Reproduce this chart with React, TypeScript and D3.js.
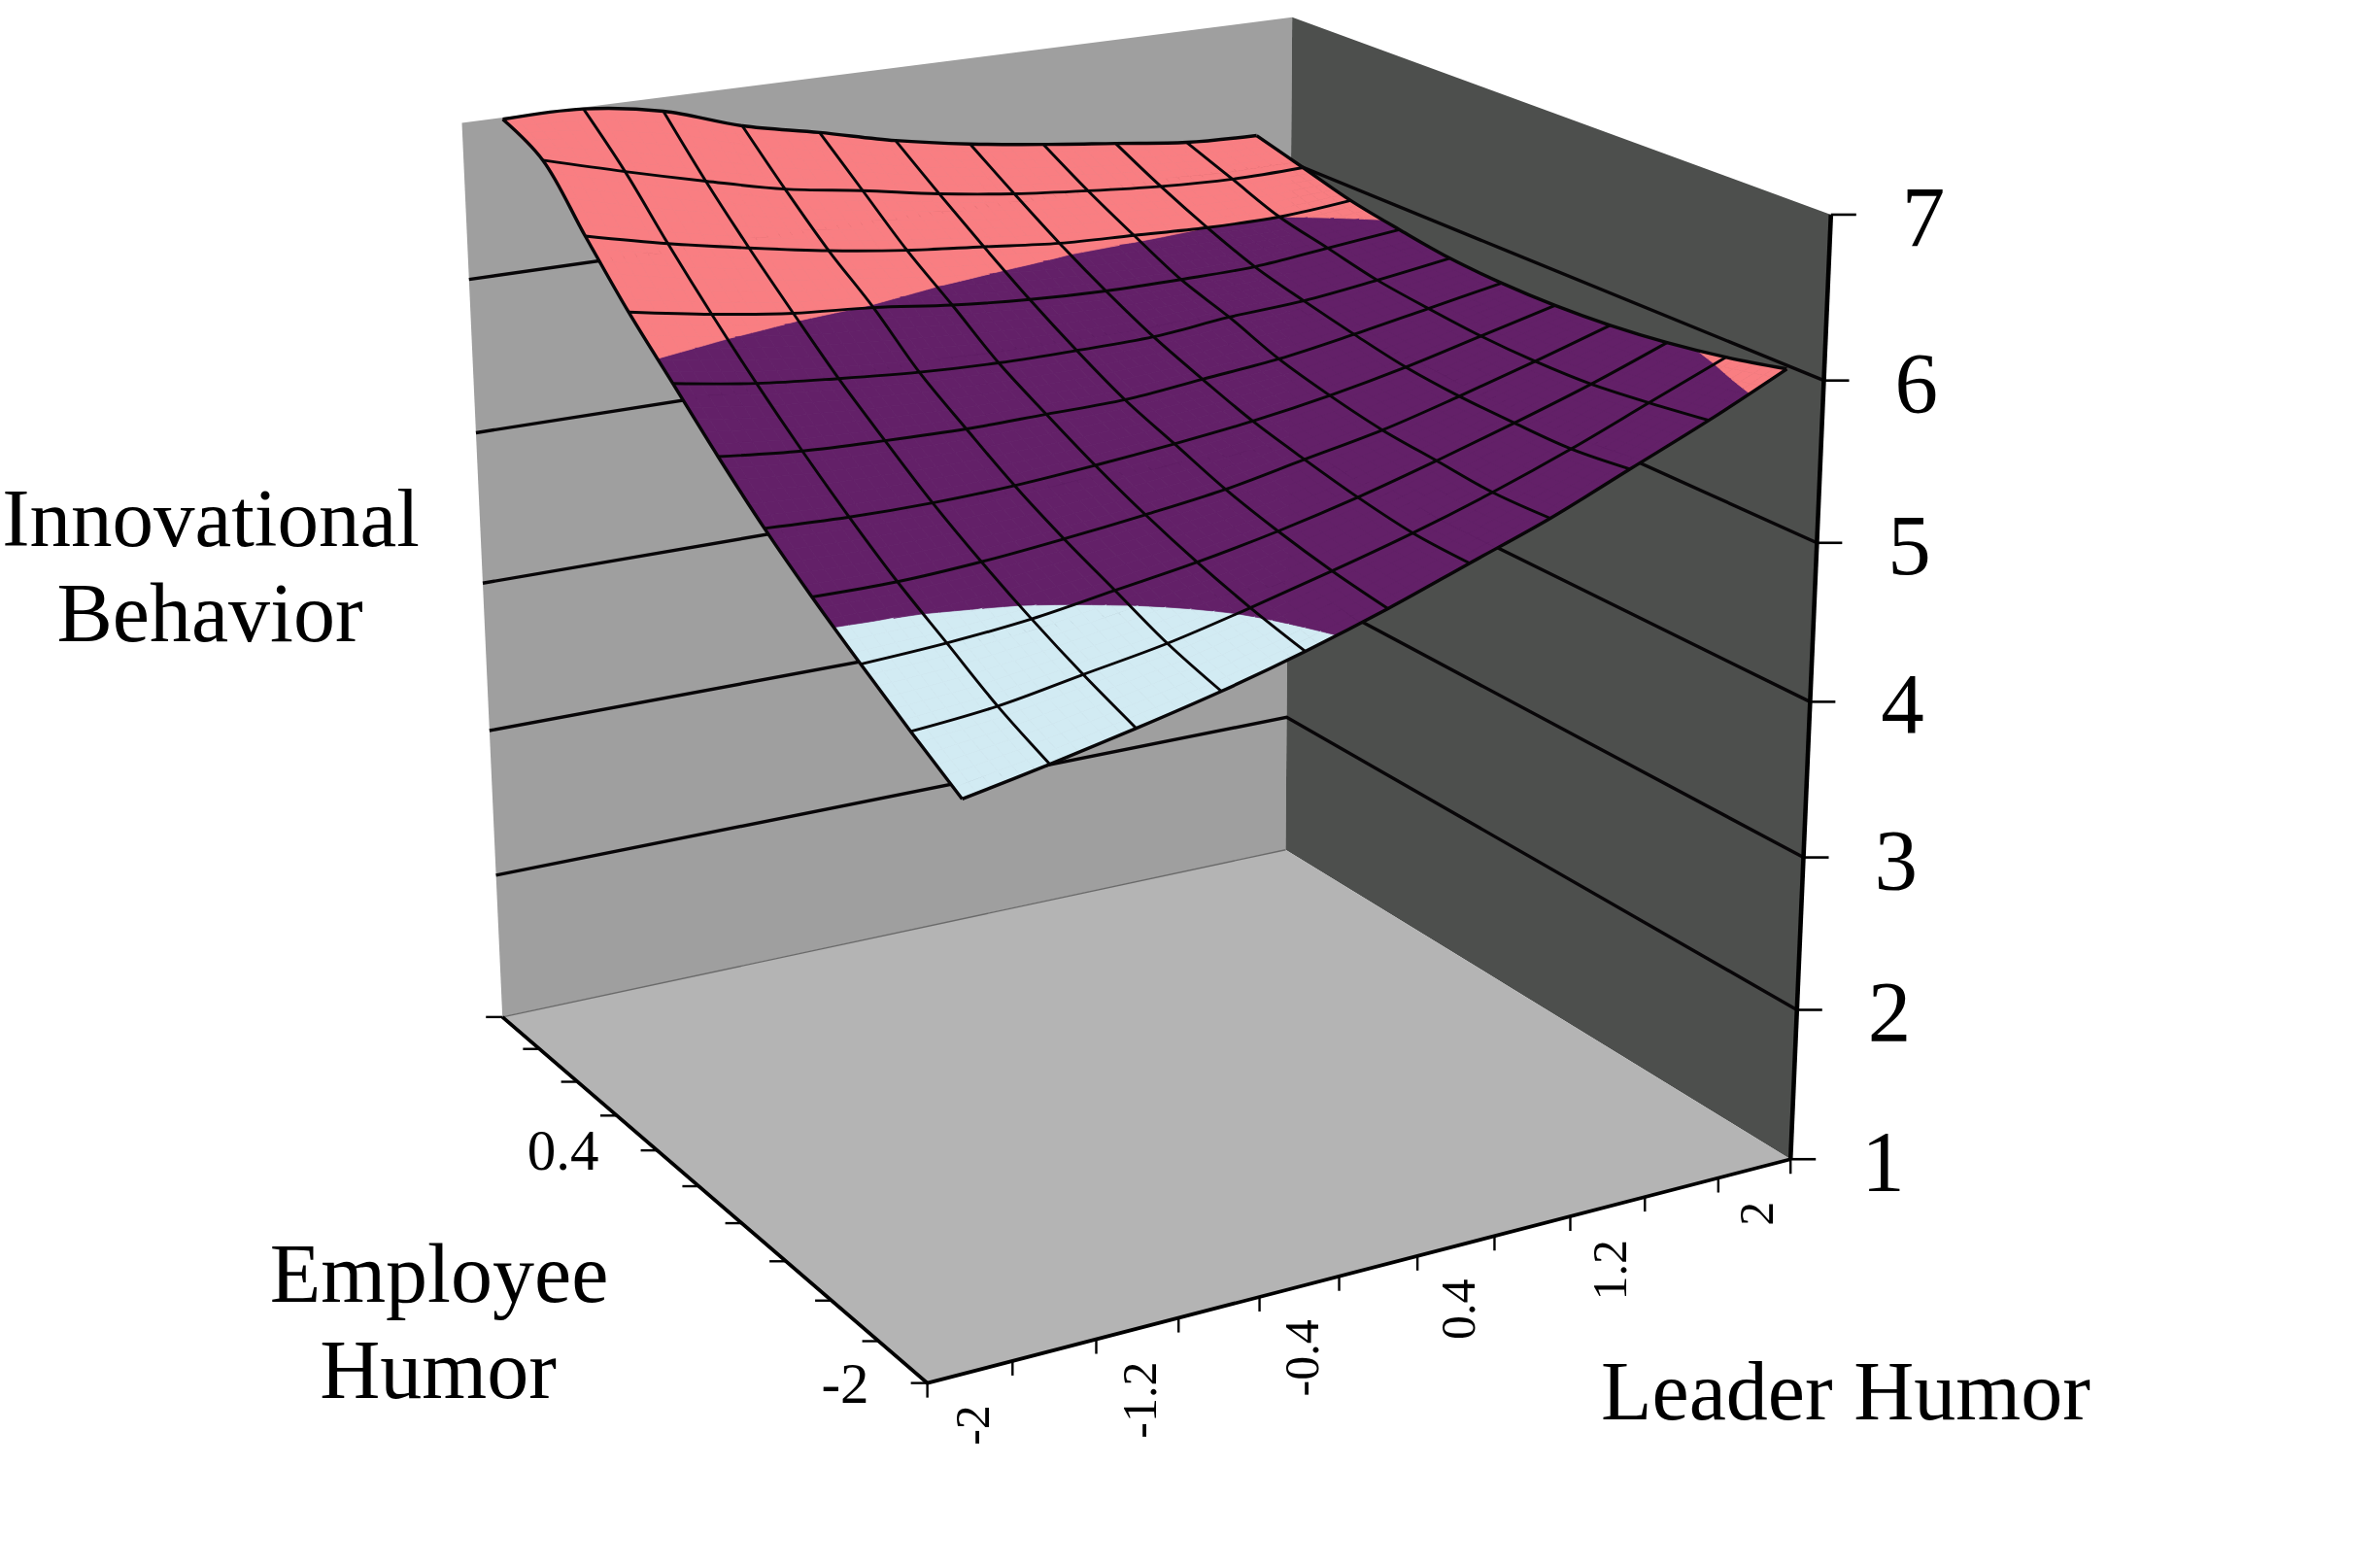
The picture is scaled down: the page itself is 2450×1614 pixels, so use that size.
import React from "react";
import * as d3 from "d3";

// ---------- data ----------
const leaderHumor = [-2, -1.6, -1.2, -0.8, -0.4, 0, 0.4, 0.8, 1.2, 1.6, 2];
const leaderLabels = ["-2", "-1.2", "-0.4", "0.4", "1.2", "2"];
const employeeLabels = [["0.4", 4], ["-2", 10]] as [string, number][];
const valueTicks = [1, 2, 3, 4, 5, 6, 7];
const employeeHumor2 = [6.99, 6.99, 6.91, 6.75, 6.64, 6.52, 6.43, 6.36, 6.30, 6.24, 6.22];
const employeeHumor16 = [6.86, 6.72, 6.59, 6.47, 6.39, 6.30, 6.23, 6.18, 6.14, 6.12, 6.13];
const employeeHumor12 = [6.52, 6.40, 6.30, 6.21, 6.14, 6.09, 6.04, 6.02, 6.00, 6.00, 6.04];
const employeeHumor08 = [6.19, 6.10, 6.03, 5.99, 5.93, 5.89, 5.87, 5.87, 5.88, 5.93, 5.98];
const employeeHumor04 = [5.90, 5.82, 5.77, 5.73, 5.71, 5.71, 5.72, 5.77, 5.80, 5.86, 5.93];
const employeeHumor0 = [5.61, 5.56, 5.54, 5.53, 5.54, 5.55, 5.60, 5.65, 5.73, 5.82, 5.91];
const employeeHumorM04 = [5.34, 5.32, 5.32, 5.34, 5.38, 5.43, 5.49, 5.57, 5.67, 5.79, 5.91];
const employeeHumorM08 = [5.10, 5.10, 5.13, 5.18, 5.24, 5.31, 5.41, 5.51, 5.64, 5.78, 5.93];
const employeeHumorM12 = [4.88, 4.91, 4.96, 5.04, 5.12, 5.22, 5.34, 5.48, 5.63, 5.79, 5.97];
const employeeHumorM16 = [4.67, 4.72, 4.81, 4.90, 5.02, 5.15, 5.29, 5.45, 5.63, 5.83, 6.03];
const employeeHumorM2 = [4.47, 4.57, 4.68, 4.80, 4.94, 5.10, 5.28, 5.46, 5.67, 5.88, 6.11];
const surface = [employeeHumor2, employeeHumor16, employeeHumor12, employeeHumor08, employeeHumor04, employeeHumor0, employeeHumorM04, employeeHumorM08, employeeHumorM12, employeeHumorM16, employeeHumorM2];
const bands: [number, number, string][] = [[1, 5, "#d2ebf3"], [5, 6, "#632068"], [6, 7, "#f97e82"]];

// ---------- projection (a perspective camera, as in the picture) ----------
const cam = [0.91388, 0.3035, -0.06902, 0.51722, -0.101, 0.17704, -0.92766, 1.04687, 0.08135, -0.14028, -0.05738];
const W = 2450, H = 1614;
const proj = (u: number, t: number, w: number): [number, number] => {
  const d = cam[8] * u + cam[9] * t + cam[10] * w + 1;
  return [1000 * (cam[0] * u + cam[1] * t + cam[2] * w + cam[3]) / d, 1000 * (cam[4] * u + cam[5] * t + cam[6] * w + cam[7]) / d];
};
const uBin = d3.scaleLinear().domain([0, 11]).range([0, 1]);
const tScale = d3.scaleLinear().domain([0, 10]).range([0, 1]);
const wScale = d3.scaleLinear().domain([1, 7]).range([0, 1]);
const surfPt = (i: number, j: number, z: number) => proj(uBin(i + 0.5), tScale(j), wScale(z));
const line = d3.line();
const smooth = d3.line().curve(d3.curveCatmullRom.alpha(0.5));
const poly = (p: [number, number][]) => line(p) + "Z";

const zAt = (i: number, j: number) => {
  const i0 = Math.min(Math.floor(i), 9), j0 = Math.min(Math.floor(j), 9), a = i - i0, b = j - j0;
  return (1 - b) * ((1 - a) * surface[j0][i0] + a * surface[j0][i0 + 1]) + b * ((1 - a) * surface[j0 + 1][i0] + a * surface[j0 + 1][i0 + 1]);
};
type V = [number, number, number];
const clip = (pts: V[], lim: number, keepAbove: boolean): V[] => {
  const out: V[] = [];
  const inside = (p: V) => (keepAbove ? p[2] >= lim : p[2] <= lim);
  pts.forEach((p, k) => {
    const q = pts[(k + 1) % pts.length];
    if (inside(p)) out.push(p);
    if (inside(p) !== inside(q)) {
      const f = (lim - p[2]) / (q[2] - p[2]);
      out.push([p[0] + f * (q[0] - p[0]), p[1] + f * (q[1] - p[1]), lim]);
    }
  });
  return out;
};
const SUB = 6;
const fills: { d: string; c: string }[] = [];
d3.range(10).forEach((j) => d3.range(10).forEach((i) => d3.range(SUB).forEach((b) => d3.range(SUB).forEach((a) => {
  const c = [[a, b], [a + 1, b], [a + 1, b + 1], [a, b + 1]].map(([x, y]) => {
    const ii = i + x / SUB, jj = j + y / SUB;
    return [ii, jj, zAt(ii, jj)] as V;
  });
  bands.forEach(([lo, hi, col]) => {
    const piece = clip(clip(c, lo, true), hi, false);
    if (piece.length > 2) fills.push({ d: poly(piece.map((p) => surfPt(p[0], p[1], p[2]))), c: col });
  });
}))));

const serif = "'Liberation Serif', serif";
const stroke = "#080608";

export default function App() {
  const wall = (v: number) => wScale(v);
  const backLeft = poly([proj(0, 0, 0), proj(1, 0, 0), proj(1, 0, 1), proj(0, 0, 1)]);
  const backRight = poly([proj(1, 0, 0), proj(1, 1, 0), proj(1, 1, 1), proj(1, 0, 1)]);
  const floor = poly([proj(0, 0, 0), proj(1, 0, 0), proj(1, 1, 0), proj(0, 1, 0)]);
  return (
    <svg width={W} height={H} style={{ position: "absolute", left: 0, top: 0, background: "#fff" }}>
      <path d={backLeft} fill="#9f9f9f" />
      <path d={backRight} fill="#4d4f4d" />
      <path d={floor} fill="#b4b4b4" />
      <path d={line([proj(0, 0, 0), proj(1, 0, 0)]) as string} stroke="#6a6a6a" strokeWidth={1.4} fill="none" />
      {valueTicks.slice(1, -1).map((v) => (
        <path key={v} d={line([proj(0, 0, wall(v)), proj(1, 0, wall(v)), proj(1, 1, wall(v))]) as string} fill="none" stroke={stroke} strokeWidth={3.4} />
      ))}
      {fills.map((f, k) => <path key={k} d={f.d} fill={f.c} stroke={f.c} strokeWidth={0.7} />)}
      {surface.map((row, j) => (
        <path key={"r" + j} d={smooth(row.map((z, i) => surfPt(i, j, z))) as string} fill="none" stroke={stroke} strokeWidth={j === 10 || j === 0 ? 3.4 : 2.9} strokeLinejoin="round" />
      ))}
      {leaderHumor.map((_, i) => (
        <path key={"c" + i} d={smooth(surface.map((row, j) => surfPt(i, j, row[i]))) as string} fill="none" stroke={stroke} strokeWidth={i === 0 || i === 10 ? 3.4 : 2.9} strokeLinejoin="round" />
      ))}
      {/* axes */}
      <path d={line([proj(0, 0, 0), proj(0, 1, 0), proj(1, 1, 0)]) as string} fill="none" stroke="#000" strokeWidth={3.8} />
      <path d={line([proj(1, 1, 0), proj(1, 1, 1)]) as string} fill="none" stroke="#000" strokeWidth={4.6} />
      {valueTicks.map((v) => {
        const [x, y] = proj(1, 1, wall(v));
        return (
          <g key={v}>
            <line x1={x} y1={y} x2={x + 26} y2={y} stroke="#000" strokeWidth={2.6} />
            <text x={x + 73} y={y + 32} fontFamily={serif} fontSize={89} fill="#000">{v}</text>
          </g>
        );
      })}
      {d3.range(12).map((k) => {
        const [x, y] = proj(uBin(k), 1, 0);
        return <line key={k} x1={x} y1={y} x2={x} y2={y + 15} stroke="#000" strokeWidth={2.4} />;
      })}
      {leaderLabels.map((s, k) => {
        const [x, y] = proj(uBin(2 * k + 0.5), 1, 0);
        return <text key={s} transform={`translate(${x + 19},${y + 34}) rotate(-90)`} textAnchor="end" fontFamily={serif} fontSize={50} fill="#000">{s}</text>;
      })}
      {d3.range(11).map((k) => {
        const [x, y] = proj(0, tScale(k), 0);
        return <line key={k} x1={x - 17} y1={y} x2={x} y2={y} stroke="#000" strokeWidth={2.4} />;
      })}
      {employeeLabels.map(([s, k]) => {
        const [x, y] = proj(0, tScale(k), 0);
        return <text key={s} x={x - 60} y={y + 20} textAnchor="end" fontFamily={serif} fontSize={59} fill="#000">{s}</text>;
      })}
      <g fontFamily={serif} fontSize={86} fill="#000">
        <text x={217} y={562} textAnchor="middle" fontSize={85}>Innovational</text>
        <text x={216} y={660} textAnchor="middle">Behavior</text>
        <text x={452} y={1340} textAnchor="middle">Employee</text>
        <text x={451} y={1439} textAnchor="middle">Humor</text>
        <text x={1648} y={1461}>Leader Humor</text>
      </g>
    </svg>
  );
}
